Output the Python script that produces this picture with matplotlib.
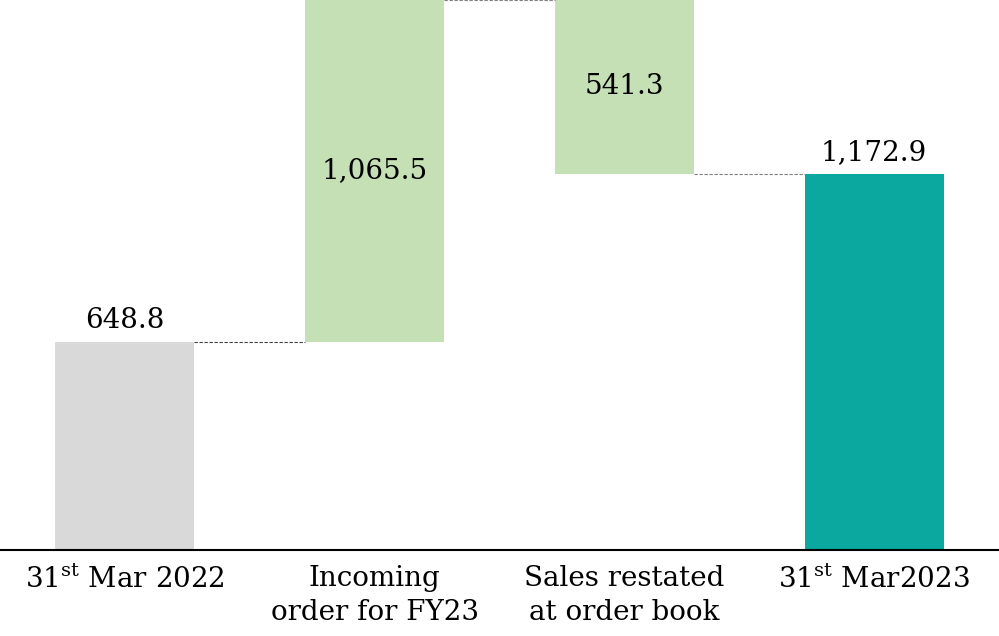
import matplotlib.pyplot as plt

# order book movement (INR crore)
categories = ['31$^{\\mathrm{st}}$ Mar 2022', 'Incoming\norder for FY23',
              'Sales restated\nat order book', '31$^{\\mathrm{st}}$ Mar2023']
opening = 648.8
incoming = 1065.5
sales = 541.3
closing = 1172.9

value_labels = ['648.8', '1,065.5', '541.3', '1,172.9']

plt.rcParams['font.family'] = 'DejaVu Serif'
plt.rcParams['mathtext.fontset'] = 'custom'
plt.rcParams['mathtext.rm'] = 'DejaVu Serif'

fig = plt.figure(figsize=(9.99, 6.36), dpi=100)
ax = fig.add_axes([0, 86 / 636, 1, 550 / 636])

peak = opening + incoming
bottoms = [0, opening, peak - sales, 0]
heights = [opening, incoming, sales, closing]
colors = ['#D9D9D9', '#C5E0B4', '#C5E0B4', '#0AA89E']

x = range(len(categories))
width = 0.556
ax.bar(x, heights, bottom=bottoms, width=width, color=colors)

# dashed connectors between bars
levels = [opening, peak, peak - sales]
for i, lvl in enumerate(levels):
    ax.plot([i + width / 2, i + 1 - width / 2], [lvl, lvl], ls=(0, (3, 1.5)),
            color='#404040' if i == 0 else '#7f7f7f', lw=0.8)

fs = 20
# totals above bars, movements inside bars
ax.text(0, opening + 25, value_labels[0], ha='center', va='bottom', fontsize=fs)
ax.text(1, opening + incoming / 2, value_labels[1], ha='center', va='center', fontsize=fs)
ax.text(2, peak - sales / 2, value_labels[2], ha='center', va='center', fontsize=fs)
ax.text(3, closing + 25, value_labels[3], ha='center', va='bottom', fontsize=fs)

ax.set_xlim(-0.5, 3.5)
ax.set_ylim(0, 1714.8)
ax.set_xticks(list(x))
ax.set_xticklabels(categories, fontsize=fs, linespacing=1.3)
ax.tick_params(axis='x', length=0, pad=11)
ax.set_yticks([])
for s in ['top', 'right', 'left']:
    ax.spines[s].set_visible(False)
ax.spines['bottom'].set_linewidth(1.5)

fig.savefig('out.png', dpi=100)
